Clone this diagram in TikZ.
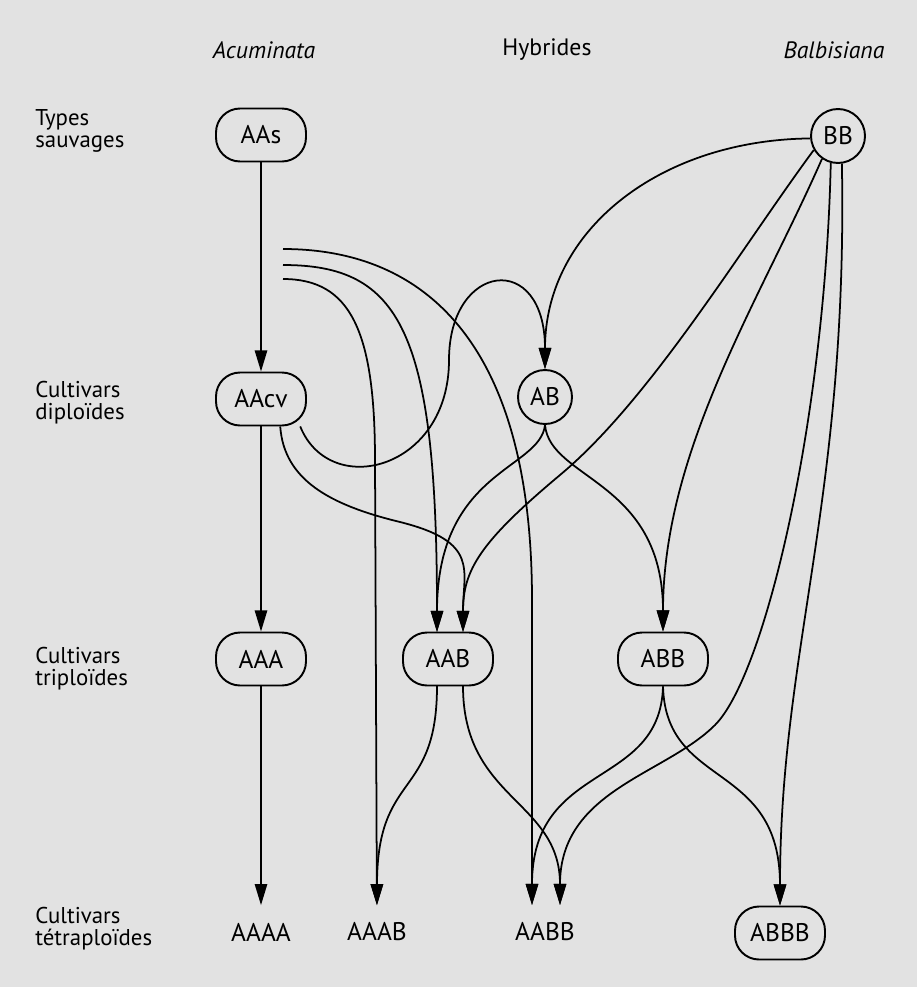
\documentclass[tikz,border=0pt]{standalone}
\usepackage{fontspec}
\setmainfont{PT Sans}
\usetikzlibrary{arrows.meta}
\definecolor{paper}{RGB}{226,226,226}
\tikzset{
  geno/.style={draw, line width=1.1pt, rounded corners=0.48cm, minimum width=1.8cm, minimum height=1.06cm, inner sep=0pt, font=\fontsize{14.5}{16}\selectfont},
  genocirc/.style={draw, circle, line width=1.1pt, minimum size=1.08cm, inner sep=0pt, font=\fontsize{14.5}{16}\selectfont},
  genotxt/.style={minimum width=1.8cm, minimum height=1.06cm, inner sep=0pt, font=\fontsize{14.5}{16}\selectfont},
  rowlabel/.style={anchor=west, align=left, inner sep=0pt, font=\fontsize{13}{12.5}\selectfont},
  link/.style={line width=1pt},
  arr/.style={link, -{Triangle[length=12pt,width=7pt]}},
}
\begin{document}
\begin{tikzpicture}[x=0.02cm, y=-0.02cm, font=\fontsize{13.5}{15}\selectfont]
    \fill [paper] (0,0) rectangle (917,987);
    % column headers
    \node (Acum) at (264,50) {\itshape Acuminata};
    \node (Hybr) at (547,50) {Hybrides};
    \node (Balb) at (834,50) {\itshape Balbisiana};
    % row labels
    \node [rowlabel] (Sauv)  at (35,131) {Types\\sauvages};
    \node [rowlabel] (Dipl)  at (35,403) {Cultivars\\diploïdes};
    \node [rowlabel] (Tripl) at (35,669) {Cultivars\\triploïdes};
    \node [rowlabel] (Tetra) at (35,929) {Cultivars\\tétraploïdes};
    % genotypes
    \node [geno]     (AAs)  at (261,135) {AAs};
    \node [genocirc] (BB)   at (838,136) {BB};
    \node [geno]     (AAcv) at (261,399) {AAcv};
    \node [genocirc] (AB)   at (545,397) {AB};
    \node [geno]     (AAA)  at (261,659) {AAA};
    \node [geno]     (AAB)  at (448,659) {AAB};
    \node [geno]     (ABB)  at (663,659) {ABB};
    \node [genotxt]  (AAAA) at (261,932) {AAAA};
    \node [genotxt]  (AAAB) at (377,932) {AAAB};
    \node [genotxt]  (AABB) at (545,932) {AABB};
    \node [geno]     (ABBB) at (780,933) {ABBB};
    % free starts of the acuminata gametes
    \coordinate (GamA) at (283,249);
    \coordinate (GamB) at (283,265);
    \coordinate (GamC) at (283,279);
    % double entries on AAB and AABB
    \coordinate (AABinL)  at (437,632);
    \coordinate (AABinR)  at (463,632);
    \coordinate (AABoutL) at (437,686);
    \coordinate (AABoutR) at (463,686);
    \coordinate (AABBinL) at (532,905);
    \coordinate (AABBinR) at (560,905);
    % acuminata column
    \draw [arr] (AAs) -- (AAcv);
    \draw [arr] (AAcv) -- (AAA);
    \draw [arr] (AAA) -- (AAAA);
    \draw [arr] (AAcv.-35) .. controls (330,500) and (449,470) .. (449,360)
                .. controls (449,262) and (545,250) .. (AB.north);% S curve to AB
    \draw [arr] (AAcv.-55) .. controls (284,480) and (330,505) .. (400,522)
                .. controls (480,542) and (463,570) .. (AABinR);
    \draw [arr] (GamA) .. controls (430,249) and (532,350) .. (532,600) -- (AABBinL);
    \draw [arr] (GamB) .. controls (400,265) and (437,330) .. (AABinL);
    \draw [arr] (GamC) .. controls (350,279) and (375,330) .. (375,460) -- (AAAB);
    % balbisiana
    \draw [arr] (BB.185) .. controls (660,140) and (545,230) .. (AB.north);
    \draw [arr] (BB.-150) .. controls (740,250) and (650,400) .. (560,475)
                .. controls (480,542) and (463,570) .. (AABinR);
    \draw [arr] (BB.-125) .. controls (760,300) and (663,450) .. (ABB.north);
    \draw [arr] (BB.-105) .. controls (825,420) and (765,675) .. (715,725)
                .. controls (665,775) and (560,790) .. (AABBinR);
    \draw [arr] (BB.-82) .. controls (848,500) and (780,650) .. (ABBB.north);
    % hybrids
    \draw [arr] (AB.south) .. controls (540,470) and (437,470) .. (AABinL);
    \draw [arr] (AB.south) .. controls (550,480) and (663,480) .. (ABB.north);
    \draw [arr] (AABoutL) .. controls (437,800) and (377,770) .. (AAAB.north);
    \draw [arr] (AABoutR) .. controls (463,800) and (560,800) .. (AABBinR);
    \draw [arr] (ABB.south) .. controls (660,790) and (532,760) .. (AABBinL);
    \draw [arr] (ABB.south) .. controls (666,790) and (780,760) .. (ABBB.north);
\end{tikzpicture}
\end{document}
